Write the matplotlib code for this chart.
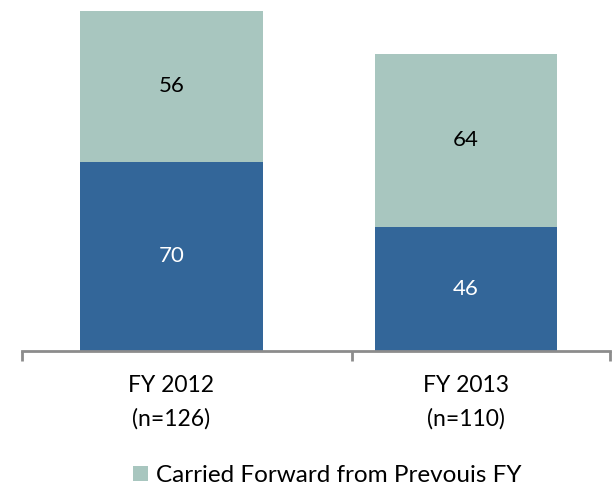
import matplotlib.pyplot as plt
import numpy as np

plt.rcParams['font.family'] = ['Lato', 'DejaVu Sans']

categories = ['FY 2012\n(n=126)', 'FY 2013\n(n=110)']
new_cases = [70, 46]
carried = [56, 64]

dark = '#336699'
light = '#a8c6bf'

fig = plt.figure(figsize=(6.13, 4.87), dpi=100)
ax = fig.add_axes([0, 0.2793, 1, 0.7207])

x = np.arange(len(categories))
w = 0.62
ax.bar(x, new_cases, w, color=dark)
ax.bar(x, carried, w, bottom=new_cases, color=light, label='Carried Forward from Prevouis FY')

for i in range(len(x)):
    ax.text(x[i], new_cases[i] / 2, str(new_cases[i]), ha='center', va='center',
            color='white', fontsize=16)
    ax.text(x[i], new_cases[i] + carried[i] / 2, str(carried[i]), ha='center', va='center',
            color='black', fontsize=16)

ax.set_xlim(-0.582, 1.499)
ax.set_ylim(0, 130)

for s in ['top', 'right', 'left']:
    ax.spines[s].set_visible(False)
ax.spines['bottom'].set_color('#8c8c8c')
ax.spines['bottom'].set_linewidth(2)
ax.spines['bottom'].set_bounds(-0.508, 1.489)

ax.set_yticks([])
ax.set_xticks([-0.508, 0.613, 1.489])
ax.set_xticklabels([])
ax.tick_params(axis='x', direction='out', length=7, width=2, color='#8c8c8c')
ax.set_xticks(x, minor=True)
ax.set_xticklabels(categories, minor=True, fontsize=16.5, linespacing=1.7)
ax.tick_params(axis='x', which='minor', length=0, pad=17)

fig.legend(loc='center', bbox_to_anchor=(0.534, 0.024), frameon=False, fontsize=17.5,
           handlelength=0.6, handleheight=0.6, handletextpad=0.35, borderpad=0)

fig.savefig('out.png', dpi=100)
